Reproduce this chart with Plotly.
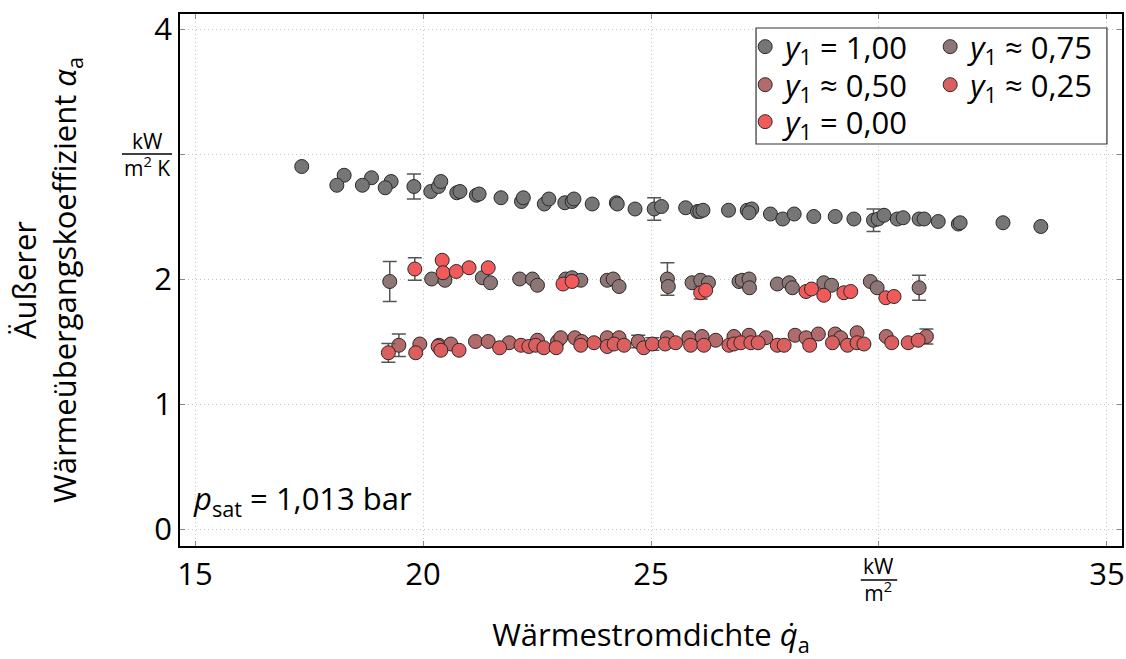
import plotly.graph_objects as go

# ---------------------------------------------------------------------------
# Messwerte: äußerer Wärmeübergangskoeffizient über der Wärmestromdichte
# ---------------------------------------------------------------------------
# y1 = 1,00
q_100 = [17.34, 18.27, 18.11, 18.87, 18.67, 19.30, 19.17, 19.80, 20.17, 20.34,
         20.39, 20.74, 20.81, 21.17, 21.23, 21.71, 22.16, 22.20, 22.66, 22.76,
         23.11, 23.27, 23.31, 23.71, 24.24, 24.26, 24.65, 25.07, 25.23, 25.76,
         26.02, 26.07, 26.14, 26.70, 27.11, 27.21, 27.15, 27.62, 27.89, 28.14,
         28.57, 29.04, 29.45, 29.88, 29.98, 30.11, 30.40, 30.53, 30.88, 30.99,
         31.30, 31.74, 31.78, 32.72, 33.55]
a_100 = [2.90, 2.83, 2.75, 2.81, 2.75, 2.78, 2.73, 2.74, 2.70, 2.74,
         2.78, 2.69, 2.70, 2.67, 2.68, 2.65, 2.62, 2.65, 2.60, 2.64,
         2.61, 2.62, 2.64, 2.60, 2.61, 2.60, 2.56, 2.56, 2.58, 2.57,
         2.54, 2.54, 2.55, 2.55, 2.55, 2.56, 2.53, 2.52, 2.48, 2.52,
         2.50, 2.50, 2.48, 2.47, 2.48, 2.51, 2.48, 2.49, 2.48, 2.48,
         2.46, 2.44, 2.45, 2.45, 2.42]
err_100 = {7: 0.10, 27: 0.09, 43: 0.09}

# y1 ≈ 0,75
q_075 = [19.27, 20.19, 20.48, 21.30, 21.48, 22.12, 22.40, 22.51, 23.13, 23.27,
         23.46, 24.04, 24.17, 24.30, 25.36, 25.38, 25.90, 26.09, 26.26, 26.93,
         27.00, 27.15, 27.16, 27.77, 28.03, 28.10, 28.79, 28.96, 29.81, 29.96,
         30.88]
a_075 = [1.98, 2.00, 1.99, 2.01, 1.97, 2.00, 2.00, 1.95, 2.00, 2.01,
         1.99, 1.99, 2.00, 1.94, 2.00, 1.94, 1.97, 1.99, 1.97, 1.98,
         1.99, 2.00, 1.93, 1.96, 1.97, 1.93, 1.97, 1.95, 1.98, 1.93,
         1.93]
err_075 = {0: 0.16, 14: 0.13, 30: 0.10}

# y1 ≈ 0,50
q_050 = [19.47, 19.93, 20.35, 20.61, 21.15, 21.43, 21.89, 22.51, 22.95, 23.02,
         23.33, 23.48, 24.04, 24.30, 24.72, 25.36, 25.83, 26.12, 26.42, 26.82,
         27.15, 27.52, 28.16, 28.40, 28.67, 29.04, 29.16, 29.52, 30.16, 31.04]
a_050 = [1.47, 1.48, 1.47, 1.48, 1.50, 1.50, 1.49, 1.51, 1.50, 1.53,
         1.53, 1.50, 1.53, 1.53, 1.50, 1.53, 1.53, 1.54, 1.51, 1.54,
         1.55, 1.53, 1.55, 1.53, 1.56, 1.56, 1.53, 1.57, 1.54, 1.54]
err_050 = {0: 0.09, 14: 0.05, 29: 0.06}

# y1 ≈ 0,25
q_025 = [19.24, 19.84, 20.33, 20.39, 20.79, 21.68, 22.15, 22.32, 22.47, 22.65,
         22.92, 23.46, 23.75, 24.04, 24.19, 24.41, 24.84, 25.03, 25.31, 25.54,
         25.87, 26.16, 26.71, 26.82, 26.97, 27.19, 27.35, 27.77, 27.92, 28.48,
         28.98, 29.31, 29.52, 29.67, 30.28, 30.64, 30.86]
a_025 = [1.41, 1.41, 1.46, 1.43, 1.43, 1.45, 1.47, 1.46, 1.47, 1.45,
         1.45, 1.47, 1.49, 1.46, 1.48, 1.47, 1.45, 1.48, 1.48, 1.49,
         1.47, 1.47, 1.47, 1.48, 1.49, 1.49, 1.49, 1.47, 1.47, 1.47,
         1.49, 1.47, 1.49, 1.48, 1.49, 1.49, 1.51]
err_025 = {0: 0.075, 17: 0.05}

# y1 = 0,00
q_000 = [19.82, 20.42, 20.44, 20.73, 21.01, 21.43, 23.07, 23.27, 26.09, 26.20,
         28.40, 28.52, 28.79, 29.23, 29.38, 30.15, 30.33]
a_000 = [2.08, 2.15, 2.05, 2.06, 2.09, 2.09, 1.96, 1.98, 1.89, 1.91,
         1.90, 1.92, 1.87, 1.89, 1.90, 1.85, 1.86]
err_000 = {0: 0.09, 8: 0.05}

# Achsenteilung; an der Stelle 30 bzw. 3 steht jeweils die Einheit
x_ticks = [15, 20, 25, 30, 35]
x_ticktext = ["15", "20", "25", "", "35"]
y_ticks = [0, 1, 2, 3, 4]
y_ticktext = ["0", "1", "2", "", "4"]
x_unit = "kW<br>m<sup>2</sup>"
y_unit = "kW<br>m<sup>2</sup> K"

FONT = "Open Sans"
FS = 31
UNIT_FS = 21

series = [
    ("<i>y</i><sub>1</sub> = 1,00", q_100, a_100, err_100, "#767676", "legend"),
    ("<i>y</i><sub>1</sub> ≈ 0,75", q_075, a_075, err_075, "#8c7676", "legend"),
    ("<i>y</i><sub>1</sub> ≈ 0,50", q_050, a_050, err_050, "#b26a6a", "legend2"),
    ("<i>y</i><sub>1</sub> ≈ 0,25", q_025, a_025, err_025, "#dc5f5f", "legend2"),
    ("<i>y</i><sub>1</sub> = 0,00", q_000, a_000, err_000, "#f05a5a", "legend3"),
]

MS = 14
fig = go.Figure()
for name, q, a, err, color, leg in series:
    idx = sorted(err)
    # Fehlerbalken (hinter den Markern)
    fig.add_trace(go.Scatter(
        x=[q[i] for i in idx], y=[a[i] for i in idx],
        mode="markers", marker=dict(size=MS, opacity=0),
        error_y=dict(type="data", array=[err[i] for i in idx],
                     color="#555555", thickness=1.5, width=7),
        showlegend=False, hoverinfo="skip"))
    fig.add_trace(go.Scatter(
        x=q, y=a, mode="markers", name=name, legend=leg,
        marker=dict(size=MS, color=color,
                    line=dict(color="#2a2a2a", width=1))))

X_RANGE = [14.67, 35.33]
Y_RANGE = [-0.136, 4.12]

axis_common = dict(
    showline=True, linecolor="black", linewidth=1.5, mirror="ticks",
    ticks="inside", ticklen=5, tickcolor="#888888", tickwidth=1,
    showgrid=True, gridcolor="#c4c4c4", griddash="1px,3px", gridwidth=1,
    zeroline=False, automargin=False,
    tickfont=dict(family=FONT, size=FS, color="black"),
)

fig.update_xaxes(
    range=X_RANGE, tickmode="array", tickvals=x_ticks, ticktext=x_ticktext,
    title=dict(text="Wärmestromdichte <i>q̇</i><sub>a</sub>",
               font=dict(family=FONT, size=FS, color="black"), standoff=54),
    **axis_common)
fig.update_yaxes(
    range=Y_RANGE, tickmode="array", tickvals=y_ticks, ticktext=y_ticktext,
    title=dict(text="Äußerer<br>Wärmeübergangskoeffizient <i>α</i><sub>a</sub>",
               font=dict(family=FONT, size=FS, color="black"), standoff=68),
    **axis_common)

leg_common = dict(
    orientation="h", xanchor="left", yanchor="middle", x=0.600,
    bgcolor="rgba(0,0,0,0)", borderwidth=0,
    font=dict(family=FONT, size=FS, color="black"),
    entrywidth=140, itemwidth=30, tracegroupgap=0,
)

# Lage der Einheitenbrüche (Papierkoordinaten)
y3_paper = (3 - Y_RANGE[0]) / (Y_RANGE[1] - Y_RANGE[0])
unit_font = dict(family=FONT, size=UNIT_FS, color="black")

fig.update_layout(
    width=1126, height=659,
    margin=dict(l=180, r=4, t=14, b=113),
    paper_bgcolor="white", plot_bgcolor="white",
    font=dict(family=FONT, size=FS, color="black"),
    legend=dict(y=0.938, **leg_common),
    legend2=dict(y=0.8665, **leg_common),
    legend3=dict(y=0.797, **leg_common),
    shapes=[
        # Legendenrahmen
        dict(type="rect", xref="paper", yref="paper",
             x0=0.6115, x1=0.984, y0=0.7556, y1=0.9737,
             line=dict(color="#333333", width=1.2),
             fillcolor="white", layer="above"),
        # Bruchstriche der Einheiten
        dict(type="line", xref="paper", yref="paper",
             x0=-0.0616, x1=-0.0085, y0=y3_paper, y1=y3_paper,
             line=dict(color="black", width=1.3)),
        dict(type="line", xref="x", yref="paper",
             x0=29.6, x1=30.4, y0=-0.0639, y1=-0.0639,
             line=dict(color="black", width=1.3)),
    ],
    annotations=[
        dict(text="<i>p</i><sub>sat</sub> = 1,013 bar", xref="paper", yref="paper",
             x=0.012, y=0.086, xanchor="left", yanchor="middle", showarrow=False,
             font=dict(family=FONT, size=FS, color="black")),
        dict(text=y_unit, xref="paper", yref="y", x=-0.035, y=3,
             xanchor="center", yanchor="middle", showarrow=False, font=unit_font),
        dict(text=x_unit, xref="x", yref="paper", x=30, y=-0.0639,
             xanchor="center", yanchor="middle", showarrow=False, font=unit_font),
    ],
)

fig.write_html("out.html")
